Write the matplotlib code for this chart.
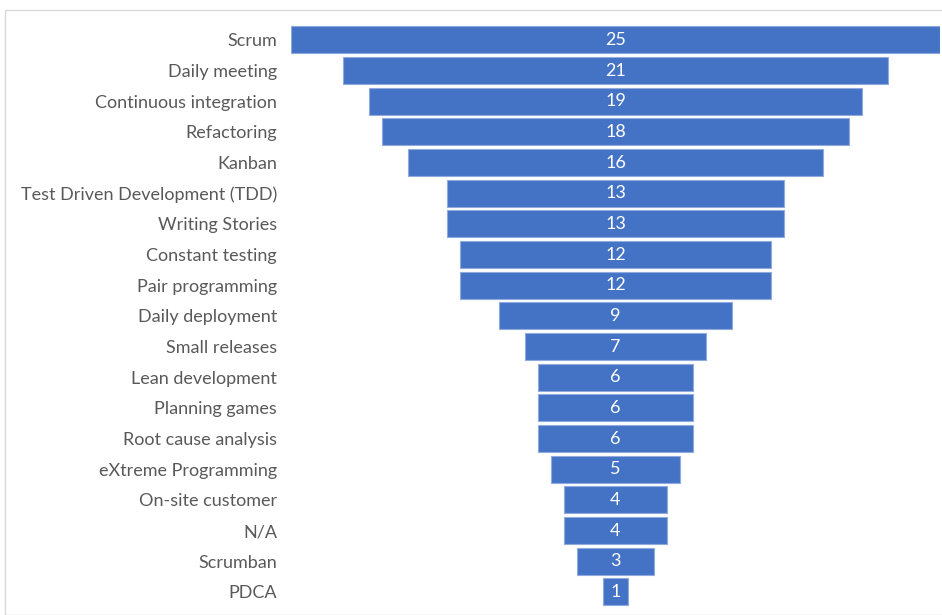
import numpy as np
import matplotlib.pyplot as plt
from matplotlib.patches import Rectangle

# Practices and how many respondents use them
practices = ["Scrum", "Daily meeting", "Continuous integration", "Refactoring",
             "Kanban", "Test Driven Development (TDD)", "Writing Stories",
             "Constant testing", "Pair programming", "Daily deployment",
             "Small releases", "Lean development", "Planning games",
             "Root cause analysis", "eXtreme Programming", "On-site customer",
             "N/A", "Scrumban", "PDCA"]
counts = [25, 21, 19, 18, 16, 13, 13, 12, 12, 9, 7, 6, 6, 6, 5, 4, 4, 3, 1]

plt.rcParams['font.family'] = ['Lato', 'DejaVu Sans']

fig = plt.figure(figsize=(9.42, 6.15), dpi=100)
# light frame like the original chart area
fig.patches.append(Rectangle((5 / 942, 0), 1, 1 - 10 / 615, transform=fig.transFigure,
                             fill=False, edgecolor='#d9d9d9', linewidth=1))

ax = fig.add_axes([291 / 942, 0.0125, 649 / 942, 0.9475])

vals = np.array(counts, dtype=float)
y = np.arange(len(practices))
ax.barh(y, vals, left=-vals / 2, height=0.88, color='#4472C4',
        edgecolor='#8faadc', linewidth=0.8)

for yi, v in zip(y, counts):
    ax.text(0, yi, str(v), ha='center', va='center', color='white', fontsize=13)

ax.set_xlim(-12.5, 12.5)
ax.set_ylim(len(practices) - 0.5, -0.5)
ax.set_yticks(y)
ax.set_yticklabels(practices, fontsize=13, color='#595959')
ax.tick_params(axis='y', length=0, pad=10)
ax.set_xticks([])
for s in ax.spines.values():
    s.set_visible(False)

fig.savefig("out.png", dpi=100)
